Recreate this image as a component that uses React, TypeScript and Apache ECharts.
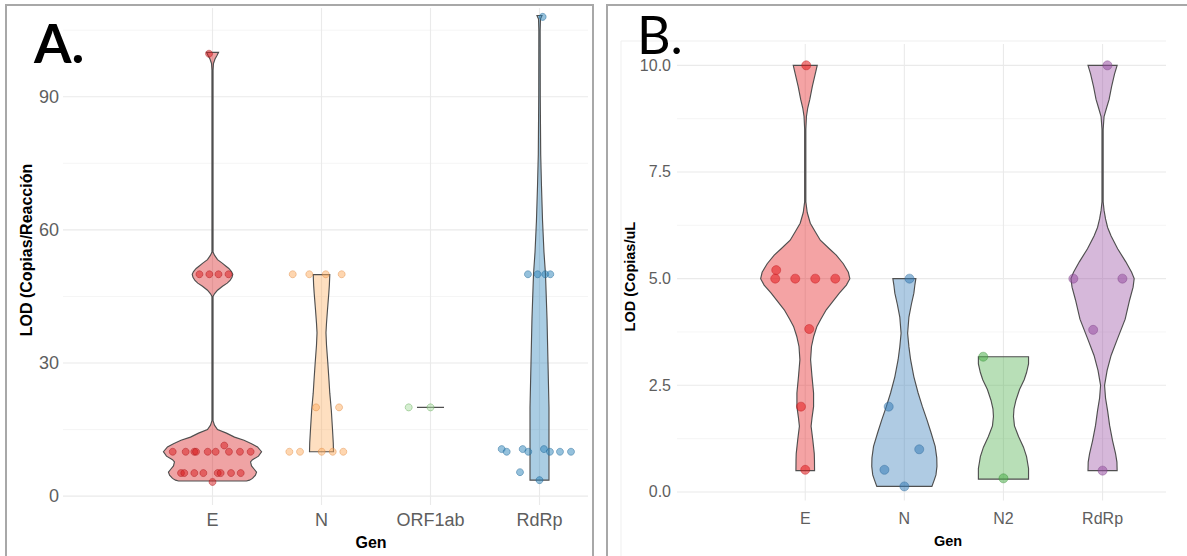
import React, { useEffect, useRef } from "react";
import * as echarts from "echarts";

// ---------- categories & ticks ----------
const GENES_A = ["E", "N", "ORF1ab", "RdRp"];
const GENES_B = ["E", "N", "N2", "RdRp"];
const Y_TICKS_A = [0, 30, 60, 90];
const Y_MINOR_A = [15, 45, 75, 105];
const Y_TICKS_B = [0, 2.5, 5, 7.5, 10];
const Y_MINOR_B = [1.25, 3.75, 6.25, 8.75];
const X_POS = [1, 2, 3, 4];

// ---------- violin outlines: [value, half width in category units] ----------
const VIOLIN_A_E: number[][] = [
  [100, 0.055], [99.3, 0.041], [98.5, 0.023], [97.5, 0.009], [96, 0.005], [55, 0.005],
  [54.3, 0.018], [53.3, 0.046], [52.5, 0.089], [51.8, 0.124], [51.3, 0.15], [50.6, 0.174],
  [50, 0.186], [49.3, 0.179], [48.6, 0.161], [48, 0.135], [47.3, 0.092], [46.4, 0.046],
  [45.6, 0.018], [45, 0.005], [17, 0.005], [16, 0.018], [15, 0.046], [14.2, 0.128],
  [13.3, 0.202], [12.6, 0.289], [11.8, 0.358], [11.1, 0.413], [10, 0.45], [9, 0.422],
  [8.2, 0.367], [7.7, 0.349], [6.8, 0.358], [6, 0.385], [5.4, 0.404], [4.7, 0.394],
  [4, 0.367], [3.6, 0.339], [3.4, 0.312],
];
const VIOLIN_A_N: number[][] = [
  [49.9, 0.076], [47.5, 0.072], [45.7, 0.067], [42, 0.055], [39, 0.046], [36.8, 0.041],
  [34, 0.046], [30, 0.058], [26, 0.069], [23.2, 0.076], [19.4, 0.09], [15, 0.101],
  [12, 0.108], [10, 0.11],
];
const VIOLIN_A_ORF1AB: number[][] = [[20, 0.124]];
const VIOLIN_A_RDRP: number[][] = [
  [108.3, 0.023], [107.5, 0.009], [105, 0.006], [90, 0.007], [77, 0.011], [70, 0.018],
  [62, 0.028], [55, 0.041], [50, 0.055], [40, 0.069], [30, 0.078], [20, 0.087],
  [10, 0.087], [3.6, 0.087],
];

const VIOLIN_B_E: number[][] = [
  [10, 0.121], [9.8, 0.101], [9.5, 0.071], [9.2, 0.046], [9.0, 0.025], [8.8, 0.012],
  [8.5, 0.006], [6.8, 0.006], [6.55, 0.02], [6.3, 0.051], [6.1, 0.101], [5.9, 0.152],
  [5.7, 0.243], [5.55, 0.313], [5.35, 0.384], [5.15, 0.435], [5.0, 0.45], [4.85, 0.415],
  [4.66, 0.344], [4.45, 0.273], [4.27, 0.212], [4.05, 0.157], [3.88, 0.118], [3.65, 0.086],
  [3.41, 0.063], [3.1, 0.054], [2.71, 0.068], [2.32, 0.084], [2.0, 0.084], [1.75, 0.069],
  [1.54, 0.059], [1.22, 0.076], [0.9, 0.091], [0.75, 0.093], [0.5, 0.094],
];
const VIOLIN_B_N: number[][] = [
  [5.0, 0.116], [4.85, 0.106], [4.66, 0.096], [4.4, 0.071], [4.1, 0.046], [3.72, 0.033],
  [3.4, 0.046], [3.1, 0.063], [2.7, 0.096], [2.32, 0.139], [2.0, 0.182], [1.69, 0.228],
  [1.4, 0.268], [1.07, 0.311], [0.8, 0.327], [0.6, 0.329], [0.4, 0.319], [0.29, 0.303],
  [0.13, 0.278],
];
const VIOLIN_B_N2: number[][] = [
  [3.17, 0.253], [3.0, 0.253], [2.8, 0.233], [2.63, 0.209], [2.4, 0.162], [2.15, 0.126],
  [1.95, 0.106], [1.77, 0.101], [1.55, 0.111], [1.3, 0.152], [1.05, 0.202], [0.83, 0.233],
  [0.55, 0.253], [0.3, 0.253],
];
const VIOLIN_B_RDRP: number[][] = [
  [10, 0.147], [9.8, 0.121], [9.5, 0.091], [9.2, 0.066], [9.0, 0.04], [8.8, 0.015],
  [8.5, 0.006], [6.8, 0.006], [6.6, 0.015], [6.4, 0.03], [6.2, 0.051], [6.0, 0.086],
  [5.7, 0.152], [5.4, 0.233], [5.15, 0.293], [5.0, 0.319], [4.8, 0.308], [4.5, 0.273],
  [4.05, 0.228], [3.6, 0.152], [3.2, 0.086], [2.85, 0.046], [2.5, 0.02], [2.2, 0.03],
  [1.9, 0.051], [1.56, 0.071], [1.2, 0.101], [0.9, 0.131], [0.7, 0.145], [0.5, 0.147],
];

// ---------- jittered points: [offset from category centre, value] ----------
const POINTS_A_E: number[][] = [
  [-0.365, 10], [-0.246, 10], [-0.167, 10], [-0.151, 10], [-0.044, 10], [0.029, 10],
  [0.151, 10], [0.252, 10], [0.35, 10], [0.108, 11.4],
  [-0.289, 5.2], [-0.259, 5.2], [-0.167, 5.2], [-0.084, 5.2], [0.048, 5.2], [0.075, 5.2],
  [0.17, 5.2], [0.259, 5.2], [0.0, 3.2],
  [-0.12, 50], [-0.029, 50], [0.055, 50], [0.147, 50], [-0.032, 99.7],
];
const POINTS_A_N: number[][] = [
  [-0.264, 50], [-0.112, 50], [0.039, 50], [0.185, 50],
  [-0.05, 20], [0.161, 20],
  [-0.295, 10], [-0.197, 10], [0.002, 10], [0.103, 10], [0.2, 10],
];
const POINTS_A_ORF1AB: number[][] = [[-0.2, 20], [0.0, 20]];
const POINTS_A_RDRP: number[][] = [
  [0.029, 108], [-0.106, 50], [-0.017, 50], [0.053, 50], [0.099, 50],
  [-0.347, 10.6], [-0.154, 10.6], [0.041, 10.6],
  [-0.301, 10], [-0.103, 10], [0.096, 10], [0.188, 10], [0.289, 10],
  [-0.179, 5.4], [0.0, 3.6],
];

const POINTS_B_E: number[][] = [
  [0.01, 10], [-0.293, 5.2], [-0.303, 5.0], [-0.101, 5.0], [0.101, 5.0], [0.303, 5.0],
  [0.04, 3.82], [-0.043, 2.0], [0.0, 0.52],
];
const POINTS_B_N: number[][] = [
  [0.052, 5.0], [-0.158, 2.0], [0.15, 1.0], [-0.201, 0.52], [0.0, 0.13],
];
const POINTS_B_N2: number[][] = [[-0.204, 3.17], [0.0, 0.32]];
const POINTS_B_RDRP: number[][] = [
  [0.049, 10], [-0.295, 5.0], [0.2, 5.0], [-0.095, 3.8], [0.0, 0.5],
];

// ---------- styling ----------
const FONT = "'Liberation Sans', Arial, Helvetica, sans-serif";
const PANEL_FONT = "Lato, 'Open Sans', sans-serif";
const LABEL_COLOR = "#5e5e5e";
const OUTLINE = "#4f4f4f";

const hLines = (gi: number, values: number[], color: string, width: number) => ({
  type: "custom",
  xAxisIndex: gi,
  yAxisIndex: gi,
  silent: true,
  z: 0,
  data: values.map((v) => [1, v]),
  renderItem: (params: any, api: any) => {
    const cs = params.coordSys;
    const y = api.coord([1, api.value(1)])[1];
    return {
      type: "line",
      shape: { x1: cs.x, y1: y, x2: cs.x + cs.width, y2: y },
      style: { stroke: color, lineWidth: width },
    };
  },
});

const vLines = (gi: number, values: number[], color: string, width: number) => ({
  type: "custom",
  xAxisIndex: gi,
  yAxisIndex: gi,
  silent: true,
  z: 0,
  data: values.map((v) => [v, 0]),
  renderItem: (params: any, api: any) => {
    const cs = params.coordSys;
    const x = api.coord([api.value(0), 0])[0];
    return {
      type: "line",
      shape: { x1: x, y1: cs.y, x2: x, y2: cs.y + cs.height },
      style: { stroke: color, lineWidth: width },
    };
  },
});

const violin = (gi: number, pos: number, profile: number[][], fill: string) => ({
  type: "custom",
  xAxisIndex: gi,
  yAxisIndex: gi,
  silent: true,
  z: 2,
  data: [[pos, profile[0][0]]],
  renderItem: (_params: any, api: any) => {
    const right = profile.map(([v, w]) => api.coord([pos + w, v]));
    const left = profile
      .slice()
      .reverse()
      .map(([v, w]) => api.coord([pos - w, v]));
    return {
      type: "polygon",
      shape: { points: right.concat(left) },
      style: { fill, stroke: OUTLINE, lineWidth: 1.15 },
    };
  },
});

const dots = (
  gi: number,
  pos: number,
  pts: number[][],
  color: string,
  border: string,
  size: number
) => ({
  type: "scatter",
  xAxisIndex: gi,
  yAxisIndex: gi,
  silent: true,
  z: 3,
  symbol: "circle",
  symbolSize: size,
  data: pts.map(([dx, v]) => [pos + dx, v]),
  itemStyle: { color, borderColor: border, borderWidth: 0.8, opacity: 1 },
});

export default function App() {
  const ref = useRef<HTMLDivElement>(null);

  useEffect(() => {
    if (!ref.current) return;
    const chart = echarts.init(ref.current, undefined, { renderer: "svg" });

    const xAxisCommon = {
      type: "value",
      axisLine: { show: false },
      axisTick: { show: false },
      splitLine: { show: false },
    };
    const yAxisCommon = {
      type: "value",
      axisLine: { show: false },
      axisTick: { show: false },
      splitLine: { show: false },
    };

    const option: any = {
      animation: false,
      backgroundColor: "#ffffff",
      grid: [
        { left: 63, top: 8, width: 525, height: 497 },
        { left: 677, top: 44, width: 489, height: 456.5 },
      ],
      xAxis: [
        {
          ...xAxisCommon,
          gridIndex: 0,
          min: -0.3716,
          max: 4.445,
          axisLabel: {
            customValues: X_POS,
            formatter: (v: number) => GENES_A[Math.round(v) - 1] ?? "",
            color: LABEL_COLOR,
            fontSize: 18,
            fontFamily: FONT,
            margin: 6,
          },
        },
        {
          ...xAxisCommon,
          gridIndex: 1,
          min: -0.294,
          max: 4.64,
          axisLabel: {
            customValues: X_POS,
            formatter: (v: number) => GENES_B[Math.round(v) - 1] ?? "",
            color: LABEL_COLOR,
            fontSize: 16,
            fontFamily: FONT,
            margin: 10,
          },
        },
      ],
      yAxis: [
        {
          ...yAxisCommon,
          gridIndex: 0,
          min: -2,
          max: 110,
          axisLabel: {
            customValues: Y_TICKS_A,
            formatter: (v: number) => String(v),
            color: LABEL_COLOR,
            fontSize: 18,
            fontFamily: FONT,
            margin: 4,
          },
        },
        {
          ...yAxisCommon,
          gridIndex: 1,
          min: -0.2,
          max: 10.5,
          axisLabel: {
            customValues: Y_TICKS_B,
            formatter: (v: number) => v.toFixed(1),
            color: LABEL_COLOR,
            fontSize: 16,
            fontFamily: FONT,
            margin: 6,
          },
        },
      ],
      series: [
        hLines(0, Y_MINOR_A, "#f3f3f3", 0.8),
        hLines(0, Y_TICKS_A, "#eaeaea", 1.1),
        vLines(0, X_POS, "#eaeaea", 1.1),
        hLines(1, Y_MINOR_B, "#f3f3f3", 0.8),
        hLines(1, Y_TICKS_B, "#eaeaea", 1.1),
        vLines(1, X_POS, "#eaeaea", 1.1),

        violin(0, 1, VIOLIN_A_E, "rgba(215,25,28,0.4)"),
        violin(0, 2, VIOLIN_A_N, "rgba(253,174,97,0.4)"),
        violin(0, 3, VIOLIN_A_ORF1AB, "rgba(171,221,164,0.4)"),
        violin(0, 4, VIOLIN_A_RDRP, "rgba(43,131,186,0.4)"),
        violin(1, 1, VIOLIN_B_E, "rgba(228,26,28,0.4)"),
        violin(1, 2, VIOLIN_B_N, "rgba(55,126,184,0.4)"),
        violin(1, 3, VIOLIN_B_N2, "rgba(77,175,74,0.4)"),
        violin(1, 4, VIOLIN_B_RDRP, "rgba(152,78,163,0.4)"),

        dots(0, 1, POINTS_A_E, "rgba(215,25,28,0.5)", "rgba(170,20,25,0.55)", 7),
        dots(0, 2, POINTS_A_N, "rgba(253,174,97,0.5)", "rgba(225,140,70,0.55)", 7),
        dots(0, 3, POINTS_A_ORF1AB, "rgba(171,221,164,0.5)", "rgba(110,175,100,0.6)", 7),
        dots(0, 4, POINTS_A_RDRP, "rgba(43,131,186,0.5)", "rgba(30,100,150,0.55)", 7),
        dots(1, 1, POINTS_B_E, "rgba(228,26,28,0.55)", "rgba(190,20,25,0.5)", 9),
        dots(1, 2, POINTS_B_N, "rgba(55,126,184,0.55)", "rgba(40,100,150,0.5)", 9),
        dots(1, 3, POINTS_B_N2, "rgba(77,175,74,0.55)", "rgba(55,140,55,0.5)", 9),
        dots(1, 4, POINTS_B_RDRP, "rgba(152,78,163,0.55)", "rgba(120,60,130,0.5)", 9),
      ],
      graphic: [
        {
          type: "rect",
          silent: true,
          shape: { x: 6, y: 5, width: 587, height: 600 },
          style: { fill: "none", stroke: "#a8a8a8", lineWidth: 2 },
        },
        {
          type: "rect",
          silent: true,
          shape: { x: 607, y: 5, width: 620, height: 600 },
          style: { fill: "none", stroke: "#a8a8a8", lineWidth: 2 },
        },
        {
          type: "line",
          silent: true,
          shape: { x1: 621, y1: 41, x2: 1166, y2: 41 },
          style: { stroke: "#efefef", lineWidth: 1 },
        },
        {
          type: "line",
          silent: true,
          shape: { x1: 621, y1: 41, x2: 621, y2: 556 },
          style: { stroke: "#efefef", lineWidth: 1 },
        },
        {
          type: "text",
          x: 34,
          y: 42,
          style: {
            text: "A.",
            fill: "#000",
            fontSize: 54,
            lineHeight: 44,
            fontWeight: "bold",
            fontFamily: PANEL_FONT,
            align: "left",
            verticalAlign: "middle",
          },
        },
        {
          type: "text",
          x: 637,
          y: 34,
          style: {
            text: "B.",
            fill: "#000",
            fontSize: 52,
            lineHeight: 42,
            fontWeight: "normal",
            fontFamily: PANEL_FONT,
            align: "left",
            verticalAlign: "middle",
          },
        },
        {
          type: "text",
          x: 26.8,
          y: 250,
          rotation: Math.PI / 2,
          style: {
            text: "LOD (Copias/Reacción",
            fill: "#000",
            fontSize: 16,
            fontWeight: "bold",
            fontFamily: FONT,
            align: "center",
            verticalAlign: "middle",
          },
        },
        {
          type: "text",
          x: 630,
          y: 276.6,
          rotation: Math.PI / 2,
          style: {
            text: "LOD (Copias/uL",
            fill: "#000",
            fontSize: 14.5,
            fontWeight: "bold",
            fontFamily: FONT,
            align: "center",
            verticalAlign: "middle",
          },
        },
        {
          type: "text",
          x: 371,
          y: 542,
          style: {
            text: "Gen",
            fill: "#000",
            fontSize: 16,
            fontWeight: "bold",
            fontFamily: FONT,
            align: "center",
            verticalAlign: "middle",
          },
        },
        {
          type: "text",
          x: 948,
          y: 541,
          style: {
            text: "Gen",
            fill: "#000",
            fontSize: 14.5,
            fontWeight: "bold",
            fontFamily: FONT,
            align: "center",
            verticalAlign: "middle",
          },
        },
      ],
    };

    chart.setOption(option);
    return () => chart.dispose();
  }, []);

  return (
    <div
      ref={ref}
      style={{ position: "absolute", left: 0, top: 0, width: 1187, height: 556 }}
    />
  );
}
